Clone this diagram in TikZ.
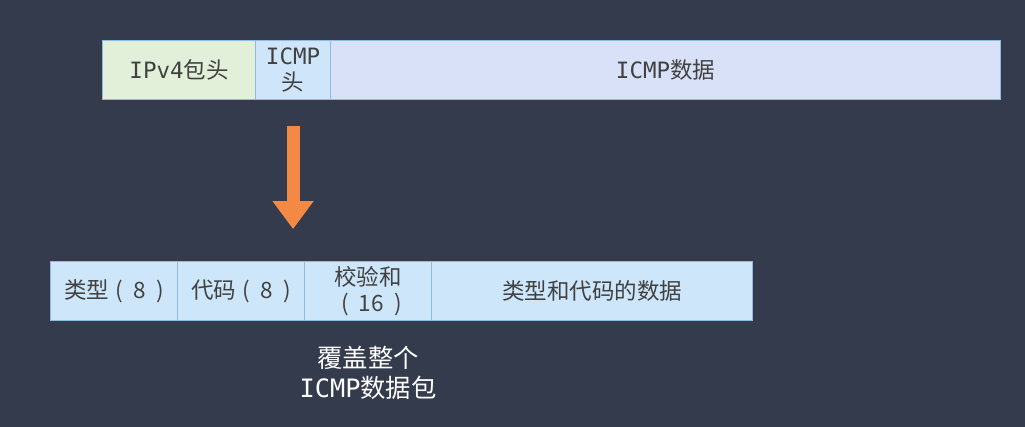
\documentclass[tikz,border=0pt]{standalone}
\usepackage{fontspec}
\usepackage{xcolor}
\usepackage{tikz}
\usetikzlibrary{arrows.meta,positioning,calc}
\setmainfont{Noto Sans CJK SC}
\newfontfamily\latinmono{DejaVu Sans Mono}

\definecolor{bgdark}{HTML}{333B4C}
\definecolor{ipgreen}{HTML}{E2EFD9}
\definecolor{headblue}{HTML}{CFE5FA}
\definecolor{datalav}{HTML}{D8E1F7}
\definecolor{fieldblue}{HTML}{CDE6FA}
\definecolor{edgeblue}{HTML}{8DBCE0}
\definecolor{txtgray}{HTML}{414141}
\definecolor{arroworange}{HTML}{F28A45}

\newdimen\pxu
\pxu=0.025cm
\newcommand{\lt}[1]{{\latinmono #1}}
\newcommand{\bits}[1]{\hspace{0.3em}(\hspace{0.45em}#1\hspace{0.45em})}

\tikzset{
  field/.style={draw=edgeblue, line width=0.8pt, anchor=north west, inner sep=0pt,
    minimum height=59\pxu, text=txtgray, font=\fontsize{16}{18.5}\selectfont, align=center},
}

\begin{document}
\begin{tikzpicture}[x=0.025cm, y=-0.025cm]
% Background
\fill[bgdark] (0,0) rectangle (1025,427);
\useasboundingbox (0,0) rectangle (1025,427);

% IPv4 packet
\node[field, fill=ipgreen, minimum width=153\pxu] (ipv4) at (102,40) {\lt{IPv4}包头};
\node[field, fill=headblue, minimum width=75\pxu] (icmph) at (255,40) {\lt{ICMP}\\头};
\node[field, fill=datalav, minimum width=670\pxu] (icmpd) at (330,40) {\lt{ICMP}数据};

% Arrow
\coordinate (arrS) at ($(icmph.south)+(0,26)$);
\coordinate (arrE) at ($(icmph.south)+(0,129)$);
\draw[arroworange, line width=9.2pt, -{Triangle[width=28pt,length=20pt]}] (arrS) -- (arrE);

% ICMP header fields
\node[field, fill=fieldblue, minimum width=127\pxu] (type) at (50,261) {类型\bits{8}};
\node[field, fill=fieldblue, minimum width=127\pxu] (code) at (177,261) {代码\bits{8}};
\node[field, fill=fieldblue, minimum width=127\pxu] (csum) at (304,261) {校验和\\\bits{16}\hspace{0.3em}};
\node[field, fill=fieldblue, minimum width=321\pxu] (tdata) at (431,261) {类型和代码的数据};

% Note
\node[text=white, font=\fontsize{18}{21.5}\selectfont, align=center] (note)
  at (368,373) {覆盖整个\\\lt{ICMP}数据包};
\end{tikzpicture}
\end{document}
